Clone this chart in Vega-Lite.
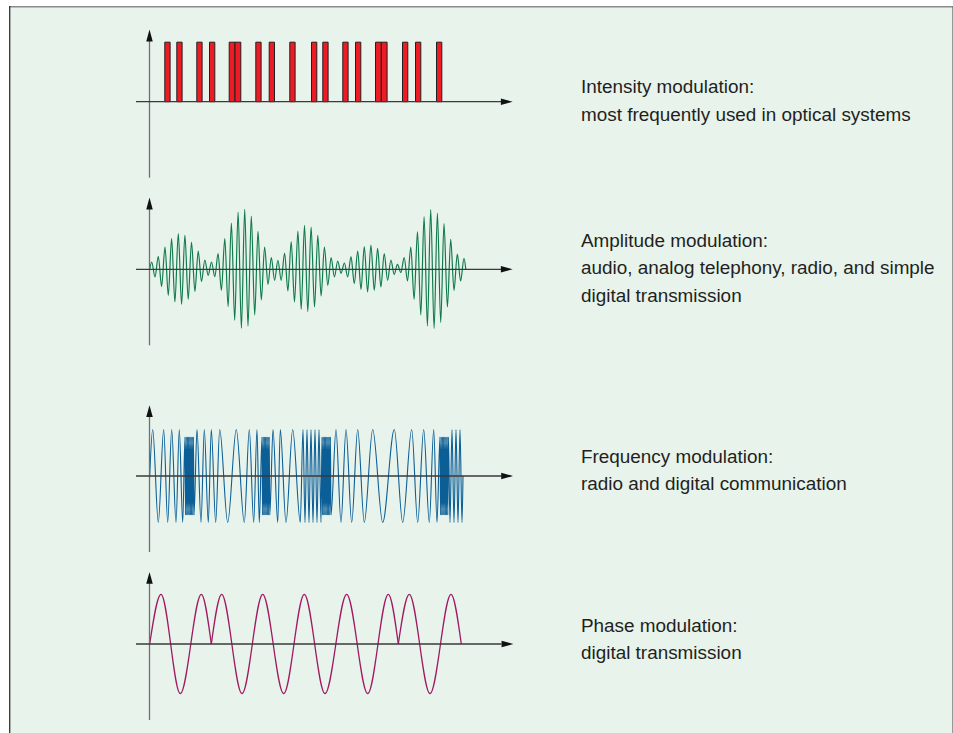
{
"$schema": "https://vega.github.io/schema/vega-lite/v6.json",
"padding": {"left": 8, "top": 5, "right": 0, "bottom": 0},
"background": "#ffffff",
"bounds": "flush",
"spacing": 0,
"config": {"view": {"stroke": null, "fill": "#e8f3ec"}, "concat": {"spacing": 0}},
"datasets": {
"bars": [{"t0":15.3,"t1":20.6,"off":0,"on":59.5},{"t0":27.3,"t1":32.6,"off":0,"on":59.5},{"t0":47.3,"t1":52.6,"off":0,"on":59.5},{"t0":60.0,"t1":65.3,"off":0,"on":59.5},{"t0":79.7,"t1":85.5,"off":0,"on":59.5},{"t0":85.5,"t1":91.3,"off":0,"on":59.5},{"t0":106.3,"t1":111.6,"off":0,"on":59.5},{"t0":119.7,"t1":125.0,"off":0,"on":59.5},{"t0":140.3,"t1":145.6,"off":0,"on":59.5},{"t0":162.0,"t1":167.3,"off":0,"on":59.5},{"t0":173.3,"t1":178.6,"off":0,"on":59.5},{"t0":193.3,"t1":198.6,"off":0,"on":59.5},{"t0":206.0,"t1":211.3,"off":0,"on":59.5},{"t0":226.0,"t1":231.8,"off":0,"on":59.5},{"t0":231.8,"t1":237.6,"off":0,"on":59.5},{"t0":253.0,"t1":258.3,"off":0,"on":59.5},{"t0":266.0,"t1":271.3,"off":0,"on":59.5},{"t0":287.0,"t1":292.3,"off":0,"on":59.5}],
"am": [{"t":0.2,"a":0},
{"t":2.2,"a":7.3},{"t":5.5,"a":-7.7},{"t":8.8,"a":13},{"t":12.1,"a":-17.3},{"t":15.5,"a":22.3},{"t":18.8,"a":-26},{"t":22.1,"a":30.7},{"t":25.4,"a":-32.7},{"t":28.8,"a":35.7},{"t":32.1,"a":-35},
{"t":35.4,"a":34},{"t":38.7,"a":-30},{"t":42.0,"a":27.3},{"t":45.4,"a":-22},{"t":48.7,"a":18.3},{"t":52.0,"a":-12.3},{"t":55.3,"a":9.3},{"t":58.7,"a":-6},{"t":62.0,"a":7.3},{"t":65.3,"a":-7.3},
{"t":68.6,"a":15.7},{"t":71.9,"a":-21},{"t":75.3,"a":30.7},{"t":78.6,"a":-37.3},{"t":81.9,"a":46.3},{"t":85.2,"a":-51},{"t":88.6,"a":57.3},{"t":91.9,"a":-59},{"t":95.2,"a":60},{"t":98.5,"a":-56.7},
{"t":101.8,"a":53.3},{"t":105.2,"a":-45.7},{"t":108.5,"a":38},{"t":111.8,"a":-30.7},{"t":115.1,"a":22.3},{"t":118.5,"a":-15},{"t":121.8,"a":11.7},{"t":125.1,"a":-11},{"t":128.4,"a":9},{"t":131.7,"a":-11},
{"t":135.1,"a":16.3},{"t":138.4,"a":-21.7},{"t":141.7,"a":27.7},{"t":145.0,"a":-32.7},{"t":148.4,"a":38.3},{"t":151.7,"a":-40},{"t":155.0,"a":44},{"t":158.3,"a":-42.3},{"t":161.6,"a":42.3},{"t":165.0,"a":-37.7},
{"t":168.3,"a":34},{"t":171.6,"a":-26.7},{"t":174.9,"a":22.3},{"t":178.3,"a":-16},{"t":181.6,"a":11.7},{"t":184.9,"a":-7.7},{"t":188.2,"a":8.3},{"t":191.5,"a":-4},{"t":194.9,"a":6.3},{"t":198.2,"a":-7.7},
{"t":201.5,"a":12.7},{"t":204.8,"a":-14.3},{"t":208.2,"a":18.3},{"t":211.5,"a":-20},{"t":214.8,"a":22.7},{"t":218.1,"a":-22.7},{"t":221.4,"a":24.3},{"t":224.8,"a":-21},{"t":228.1,"a":21},{"t":231.4,"a":-17.7},
{"t":234.7,"a":15.7},{"t":238.1,"a":-11},{"t":241.4,"a":9.3},{"t":244.7,"a":-5},{"t":248.0,"a":5},{"t":251.3,"a":-3.3},{"t":254.7,"a":11.7},{"t":258.0,"a":-11.7},{"t":261.3,"a":22.3},{"t":264.6,"a":-30},
{"t":268.0,"a":37.7},{"t":271.3,"a":-45.7},{"t":274.6,"a":52.7},{"t":277.9,"a":-56.7},{"t":281.2,"a":59.7},{"t":284.6,"a":-59.3},{"t":287.9,"a":56.3},{"t":291.2,"a":-53.3},{"t":294.5,"a":45.7},{"t":297.9,"a":-37.7},
{"t":301.2,"a":30},{"t":304.5,"a":-21},{"t":307.8,"a":15.3},{"t":311.1,"a":-11.7},{"t":314.5,"a":11},{"t":316.3,"a":0}],
"fm": [{"t":0.2,"a":0},{"t":3.2,"a":46.5},{"t":8.8,"a":-46.5},{"t":14.2,"a":46.5},{"t":18.2,"a":-46.5},{"t":22.2,"a":46.5},{"t":26.5,"a":-46.5},{"t":29.8,"a":46.5},{"t":33.2,"a":-46.5},
{"t":35.5,"a":39},{"t":36.1,"a":-39},{"t":36.7,"a":39},{"t":37.3,"a":-39},{"t":37.9,"a":39},{"t":38.5,"a":-39},{"t":39.1,"a":39},{"t":39.7,"a":-39},{"t":40.3,"a":39},{"t":40.9,"a":-39},{"t":41.5,"a":39},{"t":42.1,"a":-39},{"t":42.7,"a":39},{"t":43.3,"a":-39},{"t":43.9,"a":39},{"t":44.5,"a":-39},
{"t":47.5,"a":46.5},{"t":51.5,"a":-46.5},{"t":54.8,"a":46.5},{"t":58.8,"a":-46.5},{"t":61.8,"a":46.5},{"t":66.2,"a":-46.5},{"t":70.2,"a":46.5},{"t":78.2,"a":-46.5},{"t":86.8,"a":46.5},{"t":94.8,"a":-46.5},{"t":99.8,"a":46.5},{"t":104.2,"a":-46.5},{"t":107.5,"a":46.5},{"t":109.8,"a":-46.5},
{"t":112.5,"a":39},{"t":113.1,"a":-39},{"t":113.7,"a":39},{"t":114.3,"a":-39},{"t":114.9,"a":39},{"t":115.5,"a":-39},{"t":116.1,"a":39},{"t":116.7,"a":-39},{"t":117.3,"a":39},{"t":117.9,"a":-39},{"t":118.5,"a":39},{"t":119.1,"a":-39},{"t":119.7,"a":39},{"t":120.3,"a":-39},
{"t":123.5,"a":46.5},{"t":128.2,"a":-46.5},{"t":130.8,"a":46.5},{"t":136.5,"a":-46.5},{"t":143.2,"a":46.5},{"t":150.8,"a":-46.5},
{"t":153.5,"a":46.5},{"t":155.5,"a":-46.5},{"t":157.5,"a":46.5},{"t":159.5,"a":-46.5},{"t":161.5,"a":46.5},{"t":163.5,"a":-46.5},{"t":165.5,"a":46.5},{"t":167.5,"a":-46.5},{"t":169.5,"a":46.5},{"t":171.5,"a":-46.5},
{"t":172.5,"a":39},{"t":173.1,"a":-39},{"t":173.7,"a":39},{"t":174.3,"a":-39},{"t":174.9,"a":39},{"t":175.5,"a":-39},{"t":176.1,"a":39},{"t":176.7,"a":-39},{"t":177.3,"a":39},{"t":177.9,"a":-39},{"t":178.5,"a":39},{"t":179.1,"a":-39},{"t":179.7,"a":39},{"t":180.3,"a":-39},{"t":180.9,"a":39},{"t":181.5,"a":-39},
{"t":186.5,"a":46.5},{"t":191.5,"a":-46.5},{"t":196.5,"a":46.5},{"t":202.2,"a":-46.5},{"t":208.2,"a":46.5},{"t":214.8,"a":-46.5},{"t":223.2,"a":46.5},{"t":233.2,"a":-46.5},{"t":244.8,"a":46.5},{"t":253.2,"a":-46.5},{"t":262.2,"a":46.5},{"t":268.2,"a":-46.5},{"t":274.2,"a":46.5},{"t":279.8,"a":-46.5},{"t":284.2,"a":46.5},{"t":287.5,"a":-46.5},
{"t":290.5,"a":39},{"t":291.1,"a":-39},{"t":291.7,"a":39},{"t":292.3,"a":-39},{"t":292.9,"a":39},{"t":293.5,"a":-39},{"t":294.1,"a":39},{"t":294.7,"a":-39},{"t":295.3,"a":39},{"t":295.9,"a":-39},{"t":296.5,"a":39},{"t":297.1,"a":-39},{"t":297.7,"a":39},{"t":298.3,"a":-39},{"t":298.9,"a":39},
{"t":300.5,"a":-46.5},{"t":302.5,"a":46.5},{"t":304.5,"a":-46.5},{"t":306.5,"a":46.5},{"t":308.5,"a":-46.5},{"t":310.5,"a":46.5},{"t":312.5,"a":-46.5},{"t":313.5,"a":0}],
"pm": [{"seg":1,"t":0.2,"a":0},{"seg":1,"t":11.5,"a":49.7},{"seg":1,"t":30.8,"a":-49.7},{"seg":1,"t":51.8,"a":49.7},{"seg":1,"t":61.8,"a":0},
{"seg":2,"t":61.8,"a":0},{"seg":2,"t":72.2,"a":49.7},{"seg":2,"t":92.5,"a":-49.7},{"seg":2,"t":113.2,"a":49.7},{"seg":2,"t":134.2,"a":-49.7},{"seg":2,"t":154.8,"a":49.7},{"seg":2,"t":175.5,"a":-49.7},{"seg":2,"t":197.2,"a":49.7},{"seg":2,"t":218.2,"a":-49.7},{"seg":2,"t":238.8,"a":49.7},{"seg":2,"t":248.8,"a":0},
{"seg":3,"t":248.8,"a":0},{"seg":3,"t":259.8,"a":49.7},{"seg":3,"t":280.5,"a":-49.7},{"seg":3,"t":301.5,"a":49.7},{"seg":3,"t":311.8,"a":0}]
},
"vconcat": [
{"width": 945, "height": 180,
 "layer": [
  {"data": {"name": "bars"}, "mark": {"type": "rect", "fill": "#ed1c24", "stroke": "#231f20", "strokeWidth": 1},
   "encoding": {"x": {"field": "t0", "type": "quantitative", "scale": {"domain": [-140.5, 804.5], "nice": false, "zero": false}, "axis": null}, "x2": {"field": "t1"},
    "y": {"field": "on", "type": "quantitative", "scale": {"domain": [-84.3, 95.7], "nice": false, "zero": false}, "axis": null}, "y2": {"field": "off"}}},
  {"data": {"values": [{}]}, "mark": {"type": "rule", "color": "#707070", "strokeWidth": 1.3},
   "encoding": {"x": {"datum": 0, "type": "quantitative", "axis": null}, "y": {"datum": -76, "type": "quantitative", "axis": null}, "y2": {"datum": 66}}},
  {"data": {"values": [{}]}, "mark": {"type": "rule", "color": "#3a3a3a", "strokeWidth": 1.3},
   "encoding": {"x": {"datum": -13.5, "type": "quantitative", "axis": null}, "x2": {"datum": 352}, "y": {"datum": 0, "type": "quantitative", "axis": null}}},
  {"data": {"values": [{}]}, "mark": {"type": "point", "shape": "M-1,-0.55L1,0L-1,0.55Z", "size": 140, "filled": true, "color": "#111111", "opacity": 1, "strokeWidth": 0},
   "encoding": {"x": {"datum": 357.3, "type": "quantitative", "axis": null}, "y": {"datum": 0, "type": "quantitative", "axis": null}}},
  {"data": {"values": [{}]}, "mark": {"type": "point", "shape": "M-0.55,1L0,-1L0.55,1Z", "size": 140, "filled": true, "color": "#111111", "opacity": 1, "strokeWidth": 0},
   "encoding": {"x": {"datum": 0, "type": "quantitative", "axis": null}, "y": {"datum": 66.2, "type": "quantitative", "axis": null}}},
  {"data": {"values": [{}]}, "mark": {"type": "rule", "color": "#8a8a8a", "strokeWidth": 1.4},
   "encoding": {"y": {"datum": 95.0, "type": "quantitative", "axis": null}}},
  {"data": {"values": [{}]}, "mark": {"type": "rule", "color": "#333333", "strokeWidth": 1.3},
   "encoding": {"x": {"datum": -139.8, "type": "quantitative", "axis": null}}},
  {"data": {"values": [{}]}, "mark": {"type": "rule", "color": "#6a6a6a", "strokeWidth": 1.3},
   "encoding": {"x": {"datum": 803.5, "type": "quantitative", "axis": null}}},
  {"data": {"values": [{"label": "Intensity modulation:\nmost frequently used in optical systems"}]},
   "mark": {"type": "text", "align": "left", "baseline": "alphabetic", "font": "Liberation Sans", "fontSize": 18.9, "lineBreak": "\n", "lineHeight": 27.7, "color": "#231f20"},
   "encoding": {"x": {"datum": 431.5, "type": "quantitative", "axis": null}, "y": {"datum": 8.4, "type": "quantitative", "axis": null}, "text": {"field": "label", "type": "nominal"}}}
 ]},
{"width": 945, "height": 190,
 "layer": [
  {"data": {"name": "am"}, "mark": {"type": "line", "interpolate": "monotone", "color": "#117a4b", "strokeWidth": 1.2},
   "encoding": {"x": {"field": "t", "type": "quantitative", "scale": {"domain": [-140.5, 804.5], "nice": false, "zero": false}, "axis": null},
    "y": {"field": "a", "type": "quantitative", "scale": {"domain": [-106.7, 83.3], "nice": false, "zero": false}, "axis": null}}},
  {"data": {"values": [{}]}, "mark": {"type": "rule", "color": "#707070", "strokeWidth": 1.3},
   "encoding": {"x": {"datum": 0, "type": "quantitative", "axis": null}, "y": {"datum": -76, "type": "quantitative", "axis": null}, "y2": {"datum": 66}}},
  {"data": {"values": [{}]}, "mark": {"type": "rule", "color": "#3a3a3a", "strokeWidth": 1.3},
   "encoding": {"x": {"datum": -13.5, "type": "quantitative", "axis": null}, "x2": {"datum": 352}, "y": {"datum": 0, "type": "quantitative", "axis": null}}},
  {"data": {"values": [{}]}, "mark": {"type": "point", "shape": "M-1,-0.55L1,0L-1,0.55Z", "size": 140, "filled": true, "color": "#111111", "opacity": 1, "strokeWidth": 0},
   "encoding": {"x": {"datum": 357.3, "type": "quantitative", "axis": null}, "y": {"datum": 0, "type": "quantitative", "axis": null}}},
  {"data": {"values": [{}]}, "mark": {"type": "point", "shape": "M-0.55,1L0,-1L0.55,1Z", "size": 140, "filled": true, "color": "#111111", "opacity": 1, "strokeWidth": 0},
   "encoding": {"x": {"datum": 0, "type": "quantitative", "axis": null}, "y": {"datum": 65.8, "type": "quantitative", "axis": null}}},
  {"data": {"values": [{}]}, "mark": {"type": "rule", "color": "#333333", "strokeWidth": 1.3},
   "encoding": {"x": {"datum": -139.8, "type": "quantitative", "axis": null}}},
  {"data": {"values": [{}]}, "mark": {"type": "rule", "color": "#6a6a6a", "strokeWidth": 1.3},
   "encoding": {"x": {"datum": 803.5, "type": "quantitative", "axis": null}}},
  {"data": {"values": [{"label": "Amplitude modulation:\naudio, analog telephony, radio, and simple\ndigital transmission"}]},
   "mark": {"type": "text", "align": "left", "baseline": "alphabetic", "font": "Liberation Sans", "fontSize": 18.9, "lineBreak": "\n", "lineHeight": 27.7, "color": "#231f20"},
   "encoding": {"x": {"datum": 431.5, "type": "quantitative", "axis": null}, "y": {"datum": 22.6, "type": "quantitative", "axis": null}, "text": {"field": "label", "type": "nominal"}}}
 ]},
{"width": 945, "height": 185,
 "layer": [
  {"data": {"name": "fm"}, "mark": {"type": "line", "interpolate": "monotone", "color": "#0b5e96", "strokeWidth": 1.1},
   "encoding": {"x": {"field": "t", "type": "quantitative", "scale": {"domain": [-140.5, 804.5], "nice": false, "zero": false}, "axis": null},
    "y": {"field": "a", "type": "quantitative", "scale": {"domain": [-85, 100], "nice": false, "zero": false}, "axis": null}}},
  {"data": {"values": [{}]}, "mark": {"type": "rule", "color": "#707070", "strokeWidth": 1.3},
   "encoding": {"x": {"datum": 0, "type": "quantitative", "axis": null}, "y": {"datum": -76, "type": "quantitative", "axis": null}, "y2": {"datum": 65}}},
  {"data": {"values": [{}]}, "mark": {"type": "rule", "color": "#3a3a3a", "strokeWidth": 1.3},
   "encoding": {"x": {"datum": -13.5, "type": "quantitative", "axis": null}, "x2": {"datum": 352}, "y": {"datum": 0, "type": "quantitative", "axis": null}}},
  {"data": {"values": [{}]}, "mark": {"type": "point", "shape": "M-1,-0.55L1,0L-1,0.55Z", "size": 140, "filled": true, "color": "#111111", "opacity": 1, "strokeWidth": 0},
   "encoding": {"x": {"datum": 357.6, "type": "quantitative", "axis": null}, "y": {"datum": 0, "type": "quantitative", "axis": null}}},
  {"data": {"values": [{}]}, "mark": {"type": "point", "shape": "M-0.55,1L0,-1L0.55,1Z", "size": 140, "filled": true, "color": "#111111", "opacity": 1, "strokeWidth": 0},
   "encoding": {"x": {"datum": 0, "type": "quantitative", "axis": null}, "y": {"datum": 64.8, "type": "quantitative", "axis": null}}},
  {"data": {"values": [{}]}, "mark": {"type": "rule", "color": "#333333", "strokeWidth": 1.3},
   "encoding": {"x": {"datum": -139.8, "type": "quantitative", "axis": null}}},
  {"data": {"values": [{}]}, "mark": {"type": "rule", "color": "#6a6a6a", "strokeWidth": 1.3},
   "encoding": {"x": {"datum": 803.5, "type": "quantitative", "axis": null}}},
  {"data": {"values": [{"label": "Frequency modulation:\nradio and digital communication"}]},
   "mark": {"type": "text", "align": "left", "baseline": "alphabetic", "font": "Liberation Sans", "fontSize": 18.9, "lineBreak": "\n", "lineHeight": 27.7, "color": "#231f20"},
   "encoding": {"x": {"datum": 431.5, "type": "quantitative", "axis": null}, "y": {"datum": 13.5, "type": "quantitative", "axis": null}, "text": {"field": "label", "type": "nominal"}}}
 ]},
{"width": 945, "height": 173,
 "layer": [
  {"data": {"name": "pm"}, "mark": {"type": "line", "interpolate": "monotone", "color": "#a01a62", "strokeWidth": 1.3},
   "encoding": {"x": {"field": "t", "type": "quantitative", "scale": {"domain": [-140.5, 804.5], "nice": false, "zero": false}, "axis": null},
    "y": {"field": "a", "type": "quantitative", "scale": {"domain": [-90, 83], "nice": false, "zero": false}, "axis": null},
    "detail": {"field": "seg", "type": "nominal"}}},
  {"data": {"values": [{}]}, "mark": {"type": "rule", "color": "#707070", "strokeWidth": 1.3},
   "encoding": {"x": {"datum": 0, "type": "quantitative", "axis": null}, "y": {"datum": -76, "type": "quantitative", "axis": null}, "y2": {"datum": 66}}},
  {"data": {"values": [{}]}, "mark": {"type": "rule", "color": "#3a3a3a", "strokeWidth": 1.3},
   "encoding": {"x": {"datum": -13.5, "type": "quantitative", "axis": null}, "x2": {"datum": 352}, "y": {"datum": 0, "type": "quantitative", "axis": null}}},
  {"data": {"values": [{}]}, "mark": {"type": "point", "shape": "M-1,-0.55L1,0L-1,0.55Z", "size": 140, "filled": true, "color": "#111111", "opacity": 1, "strokeWidth": 0},
   "encoding": {"x": {"datum": 358, "type": "quantitative", "axis": null}, "y": {"datum": 0, "type": "quantitative", "axis": null}}},
  {"data": {"values": [{}]}, "mark": {"type": "point", "shape": "M-0.55,1L0,-1L0.55,1Z", "size": 140, "filled": true, "color": "#111111", "opacity": 1, "strokeWidth": 0},
   "encoding": {"x": {"datum": 0, "type": "quantitative", "axis": null}, "y": {"datum": 66.1, "type": "quantitative", "axis": null}}},
  {"data": {"values": [{}]}, "mark": {"type": "rule", "color": "#333333", "strokeWidth": 1.3},
   "encoding": {"x": {"datum": -139.8, "type": "quantitative", "axis": null}}},
  {"data": {"values": [{}]}, "mark": {"type": "rule", "color": "#6a6a6a", "strokeWidth": 1.3},
   "encoding": {"x": {"datum": 803.5, "type": "quantitative", "axis": null}}},
  {"data": {"values": [{"label": "Phase modulation:\ndigital transmission"}]},
   "mark": {"type": "text", "align": "left", "baseline": "alphabetic", "font": "Liberation Sans", "fontSize": 18.9, "lineBreak": "\n", "lineHeight": 27.7, "color": "#231f20"},
   "encoding": {"x": {"datum": 431.5, "type": "quantitative", "axis": null}, "y": {"datum": 12.2, "type": "quantitative", "axis": null}, "text": {"field": "label", "type": "nominal"}}}
 ]}
]
}
